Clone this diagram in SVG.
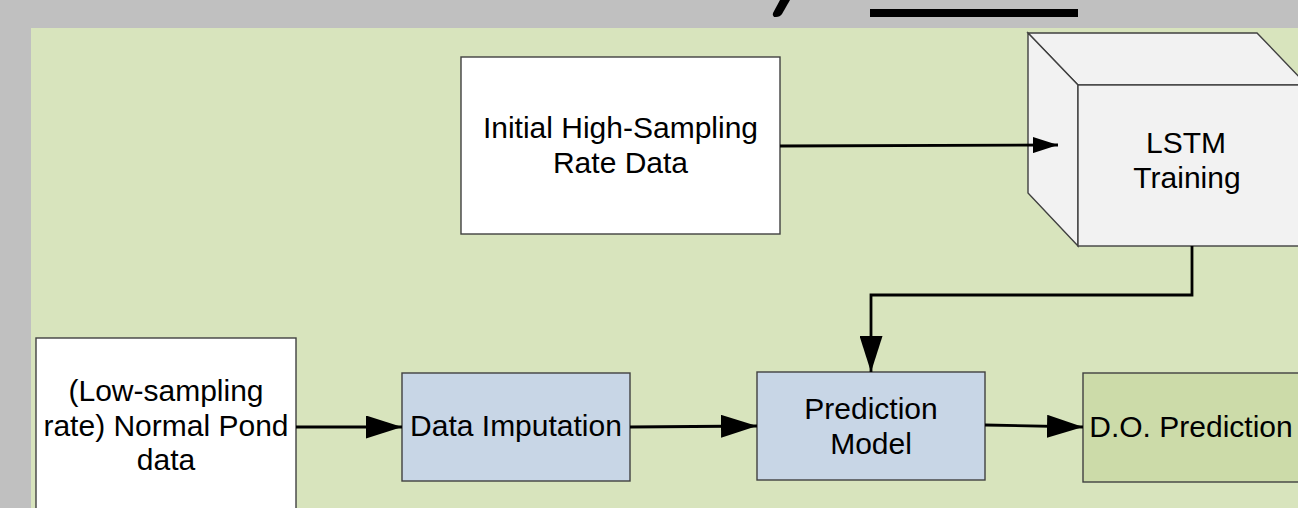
<svg xmlns="http://www.w3.org/2000/svg" width="1298" height="508" viewBox="0 0 1298 508">
<defs>
<style>
.box{stroke:#404040;stroke-width:1.4}
.lbl{font-family:"Liberation Sans",Arial,sans-serif;font-size:30px;fill:#000;text-anchor:middle}
.con{fill:none;stroke:#000;stroke-width:2.8}
</style>
<marker id="ah" viewBox="0 0 36 23" refX="36" refY="11.5" markerWidth="36" markerHeight="23" markerUnits="userSpaceOnUse" orient="auto">
<path d="M0,0 L36,11.5 L0,23 Z" fill="#000"/>
</marker>
<marker id="ahs" viewBox="0 0 25 16" refX="25" refY="8" markerWidth="25" markerHeight="16" markerUnits="userSpaceOnUse" orient="auto">
<path d="M0,0 L25,8 L0,16 Z" fill="#000"/>
</marker>
</defs>
<rect x="0" y="0" width="1298" height="508" fill="#c0c0c0"/>
<path d="M780,0 L790,0 L782,14 Q780,17 776,17 L774,17 Q772,15 773,13 Z" fill="#000"/>
<rect x="870" y="9" width="208" height="8" fill="#000"/>
<rect x="31" y="28" width="1280" height="490" fill="#d8e4bd"/>

<g id="initial-data">
<rect class="box" x="461" y="57" width="319" height="177" fill="#ffffff"/>
<text class="lbl" x="620.5" y="138">Initial High-Sampling</text>
<text class="lbl" x="620.5" y="173">Rate Data</text>
</g>

<g id="lstm-training">
<path class="box" d="M1028,33 L1257,33 L1307,85 L1078,85 Z" fill="#f2f2f2"/>
<path class="box" d="M1028,33 L1078,85 L1078,246 L1028,193 Z" fill="#f2f2f2"/>
<rect class="box" x="1078" y="85" width="229" height="161" fill="#f2f2f2"/>
<text class="lbl" x="1186" y="153">LSTM</text>
<text class="lbl" x="1187" y="188">Training</text>
</g>

<g id="low-sampling-data">
<rect class="box" x="36" y="338" width="260" height="190" fill="#ffffff"/>
<text class="lbl" x="166" y="401">(Low-sampling</text>
<text class="lbl" x="166" y="436">rate) Normal Pond</text>
<text class="lbl" x="166" y="470">data</text>
</g>

<g id="data-imputation">
<rect class="box" x="402" y="373" width="228" height="108" fill="#c8d6e6"/>
<text class="lbl" x="516" y="436">Data Imputation</text>
</g>

<g id="prediction-model">
<rect class="box" x="757" y="372" width="228" height="108" fill="#c8d6e6"/>
<text class="lbl" x="871" y="419">Prediction</text>
<text class="lbl" x="871" y="454">Model</text>
</g>

<g id="do-prediction">
<rect class="box" x="1083" y="373" width="230" height="109" fill="#ccdba9"/>
<text class="lbl" x="1191" y="437">D.O. Prediction</text>
</g>

<g id="connectors">
<path class="con" d="M780,146 L1058,145" marker-end="url(#ahs)"/>
<path class="con" d="M1192,246 L1192,295 L871,295 L871,372" marker-end="url(#ah)"/>
<path class="con" d="M296,427 L402,427" marker-end="url(#ah)"/>
<path class="con" d="M630,427 L757,426" marker-end="url(#ah)"/>
<path class="con" d="M985,425 L1083,427" marker-end="url(#ah)"/>
</g>
</svg>
